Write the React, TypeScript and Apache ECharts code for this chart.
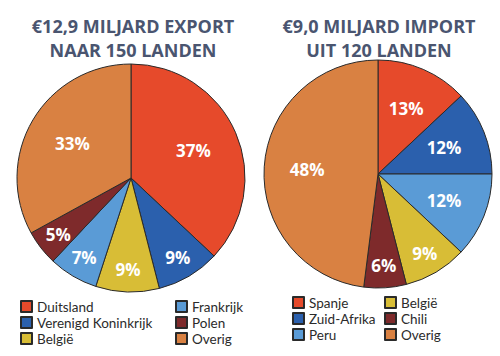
import React, { useEffect, useRef } from "react";
import * as echarts from "echarts";

// ---- data ----
const exportTitle = ["€12,9 MILJARD EXPORT", "NAAR 150 LANDEN"];
const importTitle = ["€9,0 MILJARD IMPORT", "UIT 120 LANDEN"];

const exportCategories = ["Duitsland", "Verenigd Koninkrijk", "België", "Frankrijk", "Polen", "Overig"];
const exportValues = [37, 9, 9, 7, 5, 33];

const importCategories = ["Spanje", "Zuid-Afrika", "Peru", "België", "Chili", "Overig"];
const importValues = [13, 12, 12, 9, 6, 48];

const exportLegendCol1 = ["Duitsland", "Verenigd Koninkrijk", "België"];
const exportLegendCol2 = ["Frankrijk", "Polen", "Overig"];
const importLegendCol1 = ["Spanje", "Zuid-Afrika", "Peru"];
const importLegendCol2 = ["België", "Chili", "Overig"];

const colors: Record<string, string> = {
  Duitsland: "#e64a2b",
  Spanje: "#e64a2b",
  "Verenigd Koninkrijk": "#2b60ad",
  "Zuid-Afrika": "#2b60ad",
  Frankrijk: "#5a9bd6",
  Peru: "#5a9bd6",
  "België": "#d8bd36",
  Polen: "#7e2a2b",
  Chili: "#7e2a2b",
  Overig: "#d98142",
};

const FONT = '"Open Sans", "Noto Sans", sans-serif';
const LEGEND_FONT = 'Lato, "Open Sans", sans-serif';
const SMALL_SLICE = 10; // slices below this get their label further out

function mainPie(cats: string[], vals: number[], center: number[], r: number) {
  return {
    type: "pie",
    center,
    radius: [0, r],
    startAngle: 90,
    clockwise: true,
    silent: true,
    emphasis: { disabled: true },
    label: { show: false },
    labelLine: { show: false },
    itemStyle: { borderColor: "#2a2a2a", borderWidth: 1 },
    data: cats.map((n, i) => ({ name: n, value: vals[i], itemStyle: { color: colors[n] } })),
  };
}

function labelPie(cats: string[], vals: number[], center: number[], radius: number[], small: boolean) {
  return {
    type: "pie",
    center,
    radius,
    startAngle: 90,
    clockwise: true,
    silent: true,
    emphasis: { disabled: true },
    labelLine: { show: false },
    itemStyle: { color: "rgba(0,0,0,0)", borderWidth: 0 },
    label: {
      position: "inside",
      formatter: "{c}%",
      color: "#ffffff",
      fontFamily: FONT,
      fontWeight: "bold",
      fontSize: 17,
    },
    data: cats.map((n, i) => ({
      name: n,
      value: vals[i],
      label: { show: small ? vals[i] < SMALL_SLICE : vals[i] >= SMALL_SLICE },
    })),
  };
}

function legend(names: string[], left: number, top: number) {
  return {
    orient: "vertical",
    left,
    top,
    selectedMode: false,
    icon: "rect",
    itemWidth: 11,
    itemHeight: 11,
    itemGap: 1,
    padding: 0,
    textStyle: { fontFamily: LEGEND_FONT, fontSize: 13.5, lineHeight: 15, color: "#2b2b2b" },
    data: names,
  };
}

function titleText(lines: string[], x: number) {
  return lines.map((t, i) => ({
    type: "text",
    x,
    y: 26 + i * 24,
    silent: true,
    style: {
      text: t,
      font: `bold 18px ${FONT}`,
      fill: "#4a5570",
      align: "center",
      verticalAlign: "middle",
      textAlign: "center",
      textVerticalAlign: "middle",
    },
  }));
}

export default function App() {
  const ref = useRef<HTMLDivElement>(null);
  useEffect(() => {
    if (!ref.current) return;
    const chart = echarts.init(ref.current, null, { renderer: "svg" });
    const lc = [131, 178];
    const rc = [378, 174];
    const R = 114;
    chart.setOption({
      animation: false,
      backgroundColor: "#ffffff",
      graphic: [...titleText(exportTitle, 133), ...titleText(importTitle, 379)],
      legend: [
        legend(exportLegendCol1, 20, 299),
        legend(exportLegendCol2, 175, 299),
        legend(importLegendCol1, 292, 295),
        legend(importLegendCol2, 384, 295),
      ],
      series: [
        mainPie(exportCategories, exportValues, lc, R),
        mainPie(importCategories, importValues, rc, R),
        labelPie(exportCategories, exportValues, lc, [38, 92], false),
        labelPie(exportCategories, exportValues, lc, [70, 108], true),
        labelPie(importCategories, importValues, rc, [40, 96], false),
        labelPie(importCategories, importValues, rc, [70, 108], true),
      ],
    });
    return () => chart.dispose();
  }, []);
  return (
    <div
      ref={ref}
      style={{ position: "fixed", left: 0, top: 0, width: 500, height: 356, background: "#fff" }}
    />
  );
}
